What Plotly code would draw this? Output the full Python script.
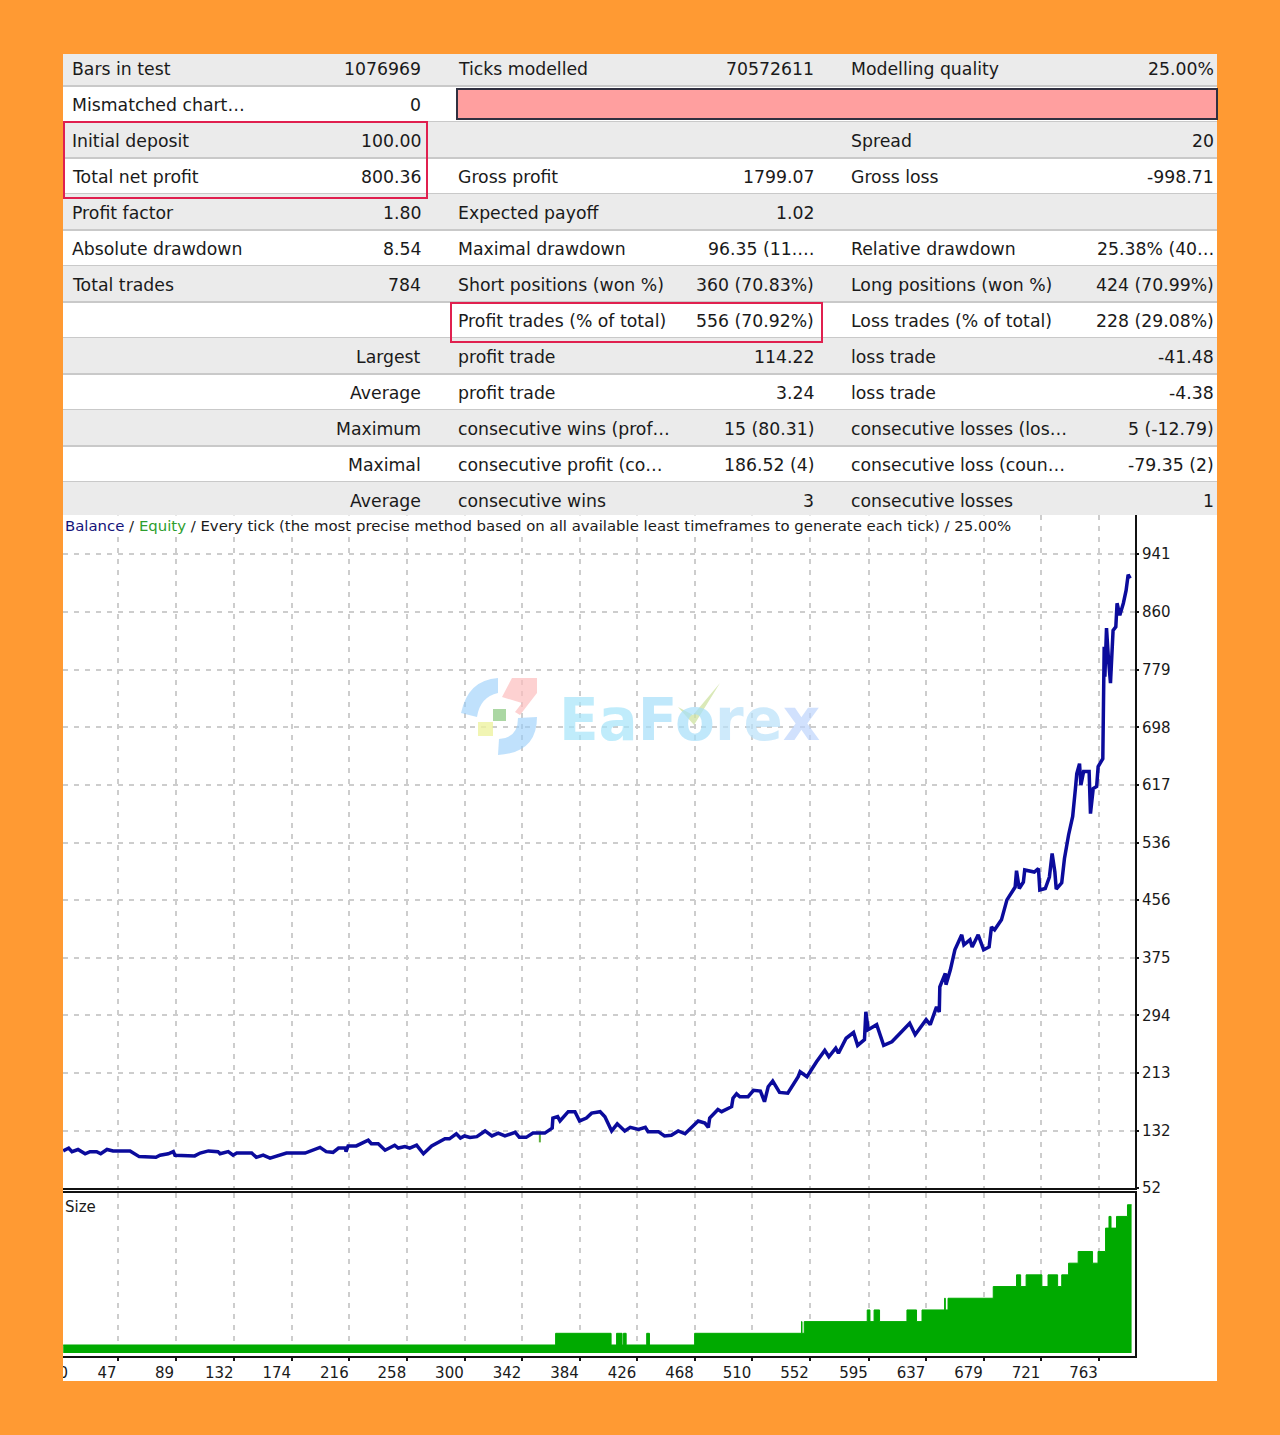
import plotly.graph_objects as go

W, H = 1280, 1435

# stats table, one list per column
col1_labels = ["Bars in test", "Mismatched chart…", "Initial deposit", "Total net profit", "Profit factor",
               "Absolute drawdown", "Total trades", "", "", "", "", "", ""]
col1_values = ["1076969", "0", "100.00", "800.36", "1.80", "8.54", "784", "",
               "Largest", "Average", "Maximum", "Maximal", "Average"]
col2_labels = ["Ticks modelled", "", "", "Gross profit", "Expected payoff", "Maximal drawdown",
               "Short positions (won %)", "Profit trades (% of total)", "profit trade", "profit trade",
               "consecutive wins (prof…", "consecutive profit (co…", "consecutive wins"]
col2_values = ["70572611", "", "", "1799.07", "1.02", "96.35 (11.…", "360 (70.83%)", "556 (70.92%)",
               "114.22", "3.24", "15 (80.31)", "186.52 (4)", "3"]
col3_labels = ["Modelling quality", "", "Spread", "Gross loss", "", "Relative drawdown",
               "Long positions (won %)", "Loss trades (% of total)", "loss trade", "loss trade",
               "consecutive losses (los…", "consecutive loss (coun…", "consecutive losses"]
col3_values = ["25.00%", "", "20", "-998.71", "", "25.38% (40…", "424 (70.99%)", "228 (29.08%)",
               "-41.48", "-4.38", "5 (-12.79)", "-79.35 (2)", "1"]

# balance curve (trade number, balance)
trades = [7, 11, 13.4, 17.8, 23, 26.6, 31.4, 34.4, 39, 43.4, 55.8, 62.5, 74.7, 77.7, 83.7, 87.4, 88.6, 103, 107,
          113, 120, 121.5, 127.5, 131, 133.7, 144.6, 148, 153, 158, 163, 170, 183.6, 189.6, 194.5, 199, 204, 208,
          213, 213.5, 215, 221, 229.7, 232, 237, 242, 249, 251.6, 256.5, 260, 265, 270, 276, 285.7, 289, 294, 297,
          300, 304, 309, 315, 320, 324.6, 329.5, 337, 340, 345, 350, 358.6, 364, 364.5, 368, 369.7, 375.7, 380.6,
          384, 389, 392.8, 399, 402.5, 407.4, 411.5, 417, 421, 427, 432, 434, 441.5, 446, 451, 456, 461, 470.6,
          475.5, 478, 479, 485, 487.7, 492.5, 495, 496, 498.6, 501, 507, 511, 516, 519, 521.7, 525, 530, 536,
          543.6, 545, 550, 557, 563, 566, 571, 573, 578.6, 584, 587, 592, 593, 594.7, 600.9, 606, 612, 618, 625,
          629, 637, 640, 644.6, 646.6, 647, 651, 651.5, 654.7, 658, 663, 664.6, 669, 670.6, 675, 679, 683, 684.7,
          687, 692, 696, 702, 703, 705, 708, 709, 716, 719, 720, 724, 727, 729, 731, 732, 736, 738, 741, 744, 746,
          747, 749, 750, 752, 756, 757, 759, 761.5, 762.6, 766, 766.3, 767, 767.5, 768.7, 770, 771.6, 773.5,
          775.5, 776.4, 778.4, 781, 783, 784.5, 786]
balance = [104, 108, 103, 106, 100, 103, 103, 100, 106, 104, 104, 96, 95, 98, 100, 103, 98, 97, 101,
           104, 103, 100, 103, 98, 101, 101, 95, 98, 94, 97, 101, 101, 105, 109, 103, 102, 108,
           108, 103, 111, 111, 119, 114, 114, 105, 112, 108, 110, 108, 112, 100, 111, 121, 121, 128, 122,
           125, 123, 124, 132, 125, 129, 125, 130, 123, 123, 129, 129, 136, 150, 152, 146, 159, 159,
           146, 150, 157, 159, 152, 132, 142, 132, 137, 134, 137, 131, 131, 125, 126, 132, 128, 146,
           143, 137, 150, 162, 159, 164, 166, 178, 184, 180, 180, 189, 188, 173, 194, 202, 186, 185,
           208, 215, 208, 229, 245, 236, 248, 241, 262, 270, 252, 260, 299, 274, 281, 252, 257, 269, 283,
           267, 288, 281, 306, 299, 334, 353, 337, 358, 386, 407, 393, 400, 390, 407, 386, 390, 418,
           414, 428, 456, 474, 497, 472, 481, 498, 495, 500, 470, 472, 488, 521, 495, 471, 480, 514, 547, 573, 612,
           633, 647, 617, 636, 636, 577, 612, 615, 643, 654, 767, 811, 769, 837, 797, 760, 834,
           839, 872, 855, 872, 890, 912, 907]

# the one spot where equity shows from under the balance line
equity_trades = [355, 355]
equity = [129, 116]

# lot size steps
size_trades = [7, 366.5, 407, 411, 415, 416, 418, 433, 435, 468, 546, 546.4, 548, 594, 596, 599, 603, 623, 630, 634,
               650.5, 651, 653, 686, 703, 706, 710, 721.5, 726, 733, 736, 741, 748, 758.5, 762.5, 768, 770.5, 772,
               776, 784, 787]
size_lots = [.01, .02, .01, .02, .01, .02, .01, .02, .01, .02, .03, .02, .03, .04, .03, .04, .03, .04, .03, .04,
             .05, .04, .05, .06, .07, .06, .07, .06, .07, .06, .07, .08, .09, .08, .09, .11, .12, .11,
             .12, .13, .13]

y_ticks = [52, 132, 213, 294, 375, 456, 536, 617, 698, 779, 860, 941]
x_grid = [47, 89, 132, 174, 216, 258, 300, 342, 384, 426, 468, 510, 552, 595, 637, 679, 721, 763]
x_labels = ["0"] + [str(v) for v in x_grid]
# labels end at their tick in the original, so the longer ones sit further left;
# the "0" is cut off by the frame
x_label_pos = [15] + [v if v < 100 else v - 3 for v in x_grid]

ORANGE = "#ff9a33"
GRID = "#cdcdcd"
RED = "#e0204f"
FONT = "DejaVu Sans"
TEXT = "#1a1a1a"
X_RANGE = [6.85, 789.5]


def px(x):
    return x / W


def py(y):
    return 1 - y / H


def rect(x0, y0, x1, y1, fill=None, line=None, lw=0, layer="below"):
    return dict(type="rect", xref="paper", yref="paper", x0=px(x0), x1=px(x1), y0=py(y0), y1=py(y1), layer=layer,
                fillcolor=fill if fill else "rgba(0,0,0,0)",
                line=dict(color=line if line else "rgba(0,0,0,0)", width=lw))


def poly(points, fill):
    path = "M " + " L ".join(f"{px(a):.5f},{py(b):.5f}" for a, b in points) + " Z"
    return dict(type="path", xref="paper", yref="paper", path=path, fillcolor=fill, line=dict(width=0), layer="above")


def arc(p0, c0, p1, p2, c1, p3, fill):
    # two quadratic edges joined by straight ones
    s = lambda p: f"{px(p[0]):.5f},{py(p[1]):.5f}"
    path = f"M {s(p0)} Q {s(c0)} {s(p1)} L {s(p2)} Q {s(c1)} {s(p3)} Z"
    return dict(type="path", xref="paper", yref="paper", path=path, fillcolor=fill, line=dict(width=0), layer="above")


def cell(x, y, text, anchor, size=17.3, color=TEXT):
    return dict(xref="paper", yref="paper", x=px(x), y=py(y), text=text, showarrow=False, xanchor=anchor,
                yanchor="middle", font=dict(family=FONT, size=size, color=color))


fig = go.Figure()

fig.add_trace(go.Scatter(x=size_trades, y=[0.0032] * len(size_trades), xaxis="x2", yaxis="y2", mode="lines",
                         line=dict(width=0, color="#00aa00"), hoverinfo="skip"))
fig.add_trace(go.Scatter(x=size_trades, y=size_lots, xaxis="x2", yaxis="y2", mode="lines",
                         line=dict(shape="hv", width=1, color="#00aa00"), fill="tonexty", fillcolor="#00aa00"))
fig.add_trace(go.Scatter(x=equity_trades, y=equity, mode="lines", line=dict(color="#5fae3c", width=2)))
fig.add_trace(go.Scatter(x=trades, y=balance, mode="lines", line=dict(color="#0b0b9c", width=3.5)))
# carries the labels of the bottom axis
fig.add_trace(go.Scatter(x=x_label_pos, y=[None] * len(x_label_pos), xaxis="x3", yaxis="y2", mode="lines",
                         hoverinfo="skip"))

shapes = [rect(63, 54, 1217, 1381, fill="white")]
for k in range(13):
    top = max(54, 50 + 36 * k)
    bottom = min(515, 86 + 36 * k)
    if k % 2 == 0:
        shapes.append(rect(63, top, 1217, bottom, fill="#ebebeb"))
    if k < 12:
        shapes.append(rect(63, bottom - 1, 1217, bottom + 1, fill="#c9c9c9"))
shapes.append(rect(457, 89, 1217, 119, fill="#ff9f9f", line="#303040", lw=2))
shapes.append(rect(64, 122, 427, 198, line=RED, lw=2, layer="above"))
shapes.append(rect(451, 303, 822, 342, line=RED, lw=2, layer="above"))
# frame hides the left part of the "0"
shapes.append(rect(0, 1357, 63, 1381, fill=ORANGE, layer="above"))

# watermark logo
shapes.append(arc((498, 678), (468, 680), (461, 713), (477, 717), (480, 697), (498, 693), "rgba(150,205,250,.6)"))
shapes.append(poly([(512, 678), (537, 678), (537, 693), (520, 715), (515, 712), (522, 703), (502, 697)], "rgba(252,190,190,.7)"))
shapes.append(arc((537, 717), (537, 753), (498, 755), (499, 739), (518, 738), (518, 718), "rgba(150,205,250,.6)"))
shapes.append(poly([(493, 709), (506, 709), (506, 721), (493, 721)], "rgba(150,205,140,.8)"))
shapes.append(poly([(478, 722), (493, 722), (493, 736), (478, 736)], "rgba(238,242,160,.8)"))
shapes.append(poly([(678, 707), (693, 715), (720, 683), (694, 725)], "rgba(205,225,160,.75)"))

annotations = []
for k in range(13):
    y = 69 + 36 * k
    if col1_labels[k]:
        annotations.append(cell(70, y, col1_labels[k], "left"))
    if col1_values[k]:
        annotations.append(cell(423, y, col1_values[k], "right"))
    if col2_labels[k]:
        annotations.append(cell(456, y, col2_labels[k], "left"))
    if col2_values[k]:
        annotations.append(cell(816, y, col2_values[k], "right"))
    if col3_labels[k]:
        annotations.append(cell(849, y, col3_labels[k], "left"))
    if col3_values[k]:
        annotations.append(cell(1216, y, col3_values[k], "right"))

legend = cell(63, 526, '<span style="color:#14147a">Balance</span> / <span style="color:#2e9e2e">Equity</span> '
              '/ Every tick (the most precise method based on all available least timeframes to generate each tick) / 25.00%',
              "left", size=14.9)
legend["bgcolor"] = "white"
annotations.append(legend)
annotations.append(cell(63, 1207, "Size", "left", size=15))
annotations.append(dict(xref="paper", yref="paper", x=px(689), y=py(720), showarrow=False, xanchor="center",
                        yanchor="middle", font=dict(family="DejaVu Sans", size=58, weight=700),
                        text='<span style="color:rgba(165,228,250,.7)">Ea</span>'
                             '<span style="color:rgba(165,222,250,.7)">Fo</span>'
                             '<span style="color:rgba(185,225,250,.7)">re</span>'
                             '<span style="color:rgba(190,212,252,.7)">x</span>'))

fig.update_layout(
    width=W, height=H, margin=dict(l=0, r=0, t=0, b=0, autoexpand=False), autosize=False, showlegend=False,
    paper_bgcolor=ORANGE, plot_bgcolor="white", font=dict(family=FONT, color=TEXT),
    shapes=shapes, annotations=annotations,
    xaxis=dict(domain=[px(63), px(1135)], range=X_RANGE, anchor="y", tickmode="array", tickvals=x_grid,
               showticklabels=False, ticks="", showgrid=True, gridcolor=GRID, griddash="5px,6px", gridwidth=1.5,
               showline=True, linecolor="#111111", linewidth=1.5, zeroline=False),
    yaxis=dict(domain=[py(1188), py(515)], range=[52, 995.7], anchor="x", side="right", tickmode="array",
               tickvals=y_ticks, ticks="outside", ticklen=2, tickcolor="#111111", tickwidth=2,
               tickfont=dict(size=15, color=TEXT), showgrid=True, gridcolor=GRID, griddash="5px,6px", gridwidth=1.5,
               showline=True, linecolor="#111111", linewidth=2, zeroline=False),
    xaxis2=dict(domain=[px(63), px(1135)], range=X_RANGE, anchor="y2", tickmode="array", tickvals=x_grid,
                showticklabels=False, ticks="outside", ticklen=3, tickcolor="#111111", tickwidth=2,
                showgrid=True, gridcolor=GRID, griddash="5px,6px", gridwidth=1.5, showline=True, mirror=True,
                linecolor="#111111", linewidth=1.5, zeroline=False),
    yaxis2=dict(domain=[py(1356), py(1192.7)], range=[0.00059, 0.1403], anchor="x2", side="right",
                showticklabels=False, ticks="", showgrid=False, showline=True, linecolor="#111111", linewidth=2,
                zeroline=False),
    xaxis3=dict(domain=[px(63), px(1135)], range=X_RANGE, anchor="y2", overlaying="x2", tickmode="array",
                tickvals=x_label_pos, ticktext=x_labels, ticks="outside", ticklen=3, tickcolor="rgba(0,0,0,0)",
                ticklabelshift=-11, tickfont=dict(size=15, color=TEXT), showgrid=False, showline=False,
                zeroline=False),
)

fig.write_html("out.html", config={"displayModeBar": False}, post_script="document.body.style.margin='0';")
